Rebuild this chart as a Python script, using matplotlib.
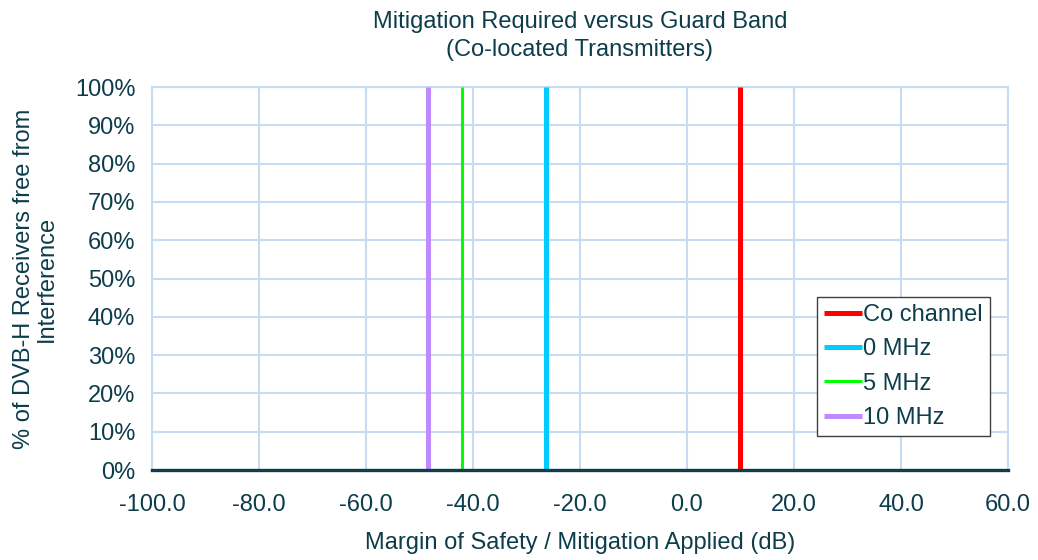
import matplotlib
matplotlib.use("Agg")

import matplotlib.pyplot as plt
import matplotlib.ticker as mticker

# threshold margin (dB) at which each curve jumps from 0% to 100%
SERIES_NAMES = ["Co channel", "0 MHz", "5 MHz", "10 MHz"]
SERIES_STEP_DB = [10.0, -26.4, -42.1, -48.4]
SERIES_COLORS = ["#ff0000", "#00ccff", "#00ff00", "#bf8aff"]
SERIES_WIDTHS = [3.6, 3.6, 2.2, 3.6]
STEP_LOW = 0.0
STEP_HIGH = 1.0

X_TICKS = [-100, -80, -60, -40, -20, 0, 20, 40, 60]
Y_TICKS = [0, 0.1, 0.2, 0.3, 0.4, 0.5, 0.6, 0.7, 0.8, 0.9, 1.0]

TEXT = "#0d3d4b"
GRID = "#c6dcf2"
FS = 17

plt.rcParams["font.family"] = ["Liberation Sans", "DejaVu Sans"]
plt.rcParams["font.size"] = FS

fig = plt.figure(figsize=(10.38, 5.6), dpi=100)
ax = fig.add_axes([0.1464, 0.1607, 0.8247, 0.6839])

for name, x, col, lw in zip(SERIES_NAMES, SERIES_STEP_DB, SERIES_COLORS, SERIES_WIDTHS):
    ax.plot([x, x], [STEP_LOW, STEP_HIGH], color=col, linewidth=lw, label=name,
            solid_capstyle="butt", zorder=3)

ax.set_xlim(-100, 60)
ax.set_ylim(0, 1)
ax.set_xticks(X_TICKS)
ax.set_yticks(Y_TICKS)
ax.xaxis.set_major_formatter(mticker.FormatStrFormatter("%.1f"))
ax.yaxis.set_major_formatter(mticker.FuncFormatter(lambda v, p: f"{v * 100:.0f}%"))
ax.tick_params(length=0, colors=TEXT, labelsize=FS)
ax.tick_params(axis="x", pad=17)
ax.tick_params(axis="y", pad=12)
ax.grid(True, color=GRID, linewidth=1.5)
ax.set_axisbelow(True)

for side in ["left", "right", "top"]:
    ax.spines[side].set_color(GRID)
    ax.spines[side].set_linewidth(1.5)
ax.spines["bottom"].set_color(TEXT)
ax.spines["bottom"].set_linewidth(2.4)
ax.spines["bottom"].set_zorder(4)

ax.set_xlabel("Margin of Safety / Mitigation Applied (dB)", color=TEXT, fontsize=FS, labelpad=12)
ax.set_ylabel("% of DVB-H Receivers free from\nInterference", color=TEXT, fontsize=FS,
              labelpad=12, linespacing=1.05)
ax.set_title("Mitigation Required versus Guard Band\n(Co-located Transmitters)",
             color=TEXT, fontsize=FS, pad=22, linespacing=1.4)

leg = ax.legend(loc="upper left", bbox_to_anchor=(0.777, 0.452), borderaxespad=0,
                fancybox=False, framealpha=1, edgecolor="#404040",
                handlelength=1.6, handletextpad=0.05, labelspacing=0.52,
                borderpad=0.3, fontsize=FS)
leg.get_frame().set_linewidth(1.0)
for t in leg.get_texts():
    t.set_color(TEXT)

fig.savefig("out.png", dpi=100)
